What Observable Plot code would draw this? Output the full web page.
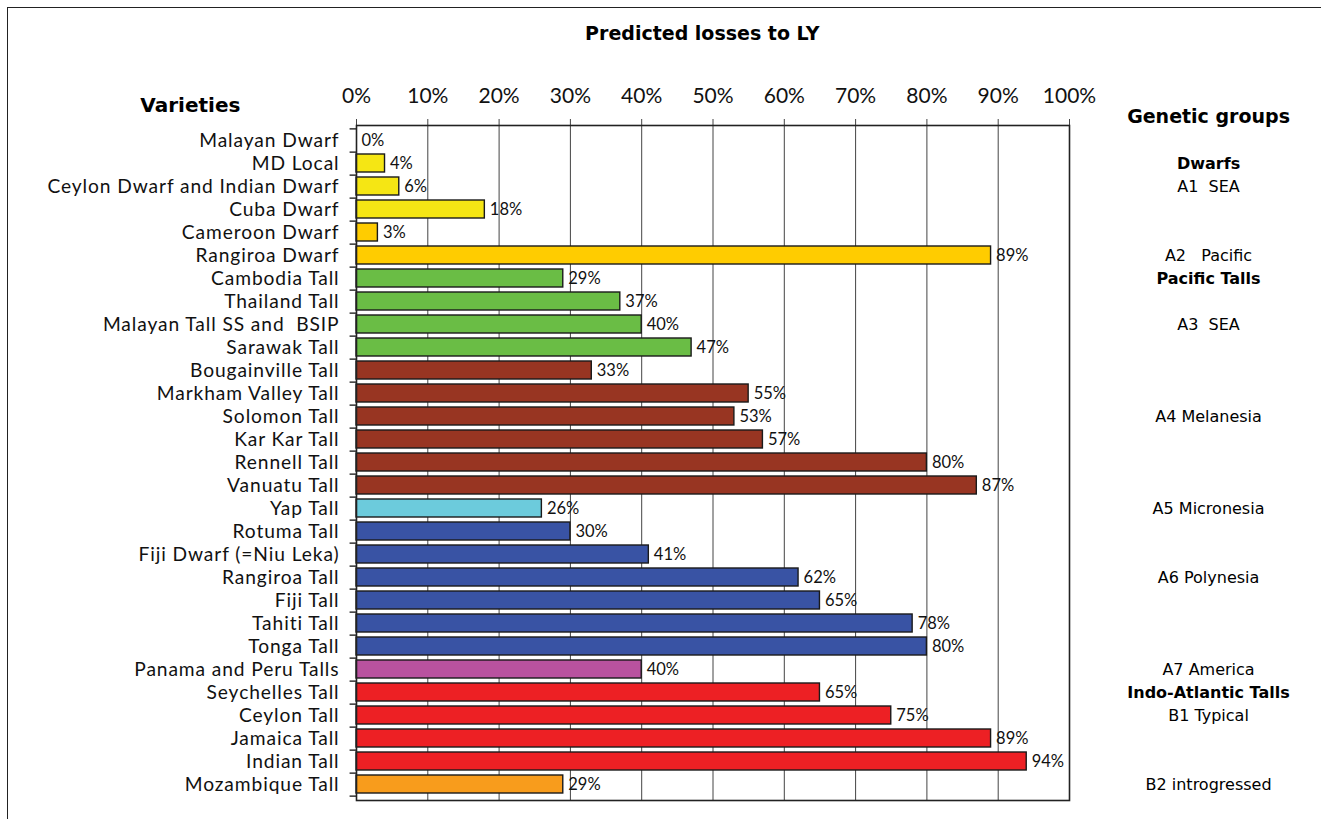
<!DOCTYPE html>
<html>
<head>
<meta charset="utf-8">
<script src="https://cdn.jsdelivr.net/npm/d3@7"></script>
<script src="https://cdn.jsdelivr.net/npm/@observablehq/plot@0.6"></script>
<style>
  html, body { margin: 0; padding: 0; background: #fff; overflow: hidden; }
  #wrap { position: relative; width: 1321px; height: 819px; }
  #border { position: absolute; left: 7px; top: 7px; width: 1340px; height: 840px; border: 1.5px solid #222; box-sizing: border-box; }
  #chart { position: absolute; left: 0; top: 0; }
  #chart g[aria-label="y-axis tick label"] text { letter-spacing: 0.9px; }
</style>
</head>
<body>
<div id="wrap"><div id="border"></div><div id="chart"></div></div>
<script>
// ---- data ----
const varieties = [
  "Malayan Dwarf", "MD Local", "Ceylon Dwarf and Indian Dwarf", "Cuba Dwarf", "Cameroon Dwarf",
  "Rangiroa Dwarf", "Cambodia Tall", "Thailand Tall", "Malayan Tall SS and  BSIP", "Sarawak Tall",
  "Bougainville Tall", "Markham Valley Tall", "Solomon Tall", "Kar Kar Tall", "Rennell Tall",
  "Vanuatu Tall", "Yap Tall", "Rotuma Tall", "Fiji Dwarf (=Niu Leka)", "Rangiroa Tall",
  "Fiji Tall", "Tahiti Tall", "Tonga Tall", "Panama and Peru Talls", "Seychelles Tall",
  "Ceylon Tall", "Jamaica Tall", "Indian Tall", "Mozambique Tall"
];
const losses = [0, 4, 6, 18, 3, 89, 29, 37, 40, 47, 33, 55, 53, 57, 80, 87, 26, 30, 41, 62, 65, 78, 80, 40, 65, 75, 89, 94, 29];
const groups = ["A1", "A1", "A1", "A1", "A2", "A2", "A3", "A3", "A3", "A3", "A4", "A4", "A4", "A4", "A4", "A4",
  "A5", "A6", "A6", "A6", "A6", "A6", "A6", "A7", "B1", "B1", "B1", "B1", "B2"];
const groupKeys = ["A1", "A2", "A3", "A4", "A5", "A6", "A7", "B1", "B2"];
const groupColors = ["#f5e614", "#ffcc00", "#6abd45", "#983522", "#6ccbdc", "#3953a4", "#b9529f", "#ed2024", "#f89c1c"];
const xTicks = [0, 10, 20, 30, 40, 50, 60, 70, 80, 90, 100];
// right-hand legend text, anchored to the row it sits beside
const groupHeadings = ["Dwarfs", "Pacific Talls", "Indo-Atlantic Talls"];
const groupHeadingRow = ["MD Local", "Cambodia Tall", "Seychelles Tall"];
const groupLabelText = ["A1  SEA", "A2   Pacific", "A3  SEA", "A4 Melanesia",
  "A5 Micronesia", "A6 Polynesia", "A7 America", "B1 Typical", "B2 introgressed"];
const groupLabelRow = ["Ceylon Dwarf and Indian Dwarf", "Rangiroa Dwarf",
  "Malayan Tall SS and  BSIP", "Solomon Tall", "Yap Tall", "Rangiroa Tall", "Panama and Peru Talls",
  "Ceylon Tall", "Mozambique Tall"];

// ---- build ----
const rows = varieties.map((v, i) => ({variety: v, loss: losses[i], group: groups[i]}));
const headingRows = groupHeadings.map((t, i) => ({text: t, row: groupHeadingRow[i]}));
const labelRows = groupLabelText.map((t, i) => ({text: t, row: groupLabelRow[i]}));

const W = 1321, H = 819;
const mTop = 125, mBottom = 19, mLeft = 356, mRight = 252;
const yPad = 0.2;
const step = (H - mTop - mBottom) / varieties.length; // paddingInner = yPad, paddingOuter = yPad/2
const font = "Lato, 'Open Sans', sans-serif";
const font2 = "'DejaVu Sans', Verdana, sans-serif";
const legendX = 119.5;

const chart = Plot.plot({
  width: W,
  height: H,
  marginTop: mTop,
  marginBottom: mBottom,
  marginLeft: mLeft,
  marginRight: mRight,
  style: {fontFamily: font, color: "#111", background: "transparent", overflow: "visible"},
  x: {domain: [0, 100], axis: null},
  y: {domain: varieties, paddingInner: yPad, paddingOuter: yPad / 2, axis: null},
  color: {domain: groupKeys, range: groupColors},
  marks: [
    Plot.ruleX(xTicks, {stroke: "#444", strokeWidth: 1}),
    Plot.axisX(xTicks, {anchor: "top", label: null, tickSize: 7, tickPadding: 16, tickFormat: d => d + "%",
      fontSize: 21, fontFamily: font, stroke: "#444", strokeWidth: 1, fill: "#111"}),
    Plot.axisY({label: null, tickSize: 0, tickPadding: 17, fontSize: 19.2, fontFamily: font, fill: "#111"}),
    Plot.ruleY(varieties, {x1: -0.9, x2: 0, dy: step / 2, stroke: "#333", strokeWidth: 1.5}),
    Plot.ruleY([varieties[0]], {x1: -0.9, x2: 0, dy: -step / 2, stroke: "#333", strokeWidth: 1.5}),
    Plot.barX(rows, {y: "variety", x: "loss", fill: "group", stroke: "#1a1a1a", strokeWidth: 1.4}),
    Plot.text(rows, {y: "variety", x: "loss", text: d => d.loss + "%", dx: 5, textAnchor: "start",
      fontSize: 16.5, fontFamily: font, fill: "#111"}),
    Plot.frame({stroke: "#222", strokeWidth: 1.6}),
    // titles
    Plot.text(["Predicted losses to LY"], {x: 48.5, frameAnchor: "top", dy: -99, fontWeight: "bold",
      fontSize: 19, fontFamily: font2, fill: "#000"}),
    Plot.text(["Varieties"], {x: -23.3, frameAnchor: "top", dy: -28, fontWeight: "bold",
      fontSize: 20, fontFamily: font2, fill: "#000"}),
    Plot.text(["Genetic groups"], {x: legendX, frameAnchor: "top", dy: -16, fontWeight: "bold",
      fontSize: 19, fontFamily: font2, fill: "#000"}),
    // right-hand genetic group labels
    Plot.text(headingRows, {x: legendX, y: "row", text: "text", fontWeight: "bold",
      fontSize: 16, fontFamily: font2, fill: "#000"}),
    Plot.text(labelRows, {x: legendX, y: "row", text: "text",
      fontSize: 16, fontFamily: font2, fill: "#000"})
  ]
});
document.getElementById("chart").appendChild(chart);
</script>
</body>
</html>
